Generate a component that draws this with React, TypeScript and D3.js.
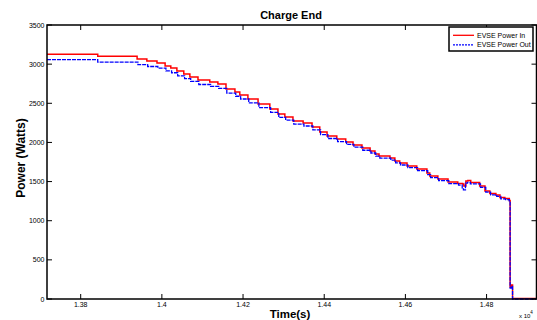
import React from "react";
import * as d3 from "d3";

const title = "Charge End";
const xLabel = "Time(s)";
const yLabel = "Power (Watts)";
const seriesNames = ["EVSE Power In", "EVSE Power Out"];
const xTicks = [13800, 14000, 14200, 14400, 14600, 14800];
const xTickLabels = ["1.38", "1.4", "1.42", "1.44", "1.46", "1.48"];
const yTicks = [0, 500, 1000, 1500, 2000, 2500, 3000, 3500];

const timeIn = [
  13717, 13842, 13939, 13963, 13988, 14008, 14022, 14037, 14054, 14069, 14089, 14118,
  14138, 14158, 14180, 14192, 14212, 14237, 14266, 14286, 14303, 14323, 14348, 14370,
  14389, 14407, 14431, 14453, 14471, 14493, 14513, 14525, 14535, 14562, 14574, 14586,
  14604, 14628, 14653, 14660, 14680, 14705, 14729, 14741, 14744, 14749, 14754, 14761,
  14783, 14796, 14808, 14823, 14833, 14845, 14856, 14858, 14861, 14864, 14924,
];
const powerIn = [
  3126, 3100, 3066, 3040, 3015, 2976, 2951, 2912, 2874, 2836, 2797, 2772,
  2746, 2683, 2644, 2606, 2555, 2491, 2427, 2363, 2325, 2274, 2248, 2197,
  2133, 2082, 2044, 2006, 1967, 1929, 1891, 1852, 1827, 1801, 1763, 1737,
  1699, 1661, 1610, 1571, 1533, 1495, 1475, 1469, 1443, 1507, 1514, 1488,
  1443, 1380, 1348, 1329, 1297, 1284, 1258, 153, 179, 6, 6,
];
const timeOut = [
  13717, 13842, 13941, 13965, 13990, 14010, 14024, 14039, 14056, 14071, 14091, 14120,
  14140, 14160, 14182, 14194, 14214, 14239, 14268, 14288, 14305, 14325, 14350, 14372,
  14391, 14409, 14433, 14455, 14473, 14495, 14515, 14527, 14537, 14564, 14576, 14588,
  14606, 14630, 14655, 14662, 14682, 14707, 14731, 14740, 14743, 14748, 14753, 14760,
  14785, 14798, 14810, 14825, 14835, 14847, 14856, 14858, 14861, 14864, 14924,
];
const powerOut = [
  3057, 3027, 2995, 2970, 2950, 2915, 2890, 2850, 2815, 2780, 2740, 2715,
  2690, 2630, 2590, 2555, 2505, 2445, 2385, 2320, 2285, 2235, 2210, 2160,
  2100, 2050, 2010, 1975, 1940, 1900, 1865, 1825, 1800, 1775, 1740, 1712,
  1678, 1640, 1590, 1550, 1512, 1475, 1455, 1420, 1395, 1480, 1490, 1470,
  1425, 1365, 1330, 1310, 1280, 1270, 1245, 140, 160, 0, 0,
];

const W = 537;
const H = 320;
const left = 47;
const right = 536.5;
const top = 25;
const bottom = 299;
const font = "'Liberation Sans', Arial, sans-serif";

export default function App() {
  const x = d3.scaleLinear().domain([13717, 14923]).range([left, right]);
  const y = d3.scaleLinear().domain([0, 3500]).range([bottom, top]);
  const line = d3
    .line<[number, number]>()
    .x((d) => x(d[0]))
    .y((d) => y(d[1]))
    .curve(d3.curveStepAfter);
  const inPts = timeIn.map((t, i) => [t, powerIn[i]] as [number, number]);
  const outPts = timeOut.map((t, i) => [t, powerOut[i]] as [number, number]);
  const tl = 5;

  return (
    <svg
      width={W}
      height={H}
      style={{ position: "absolute", left: 0, top: 0, background: "#fff" }}
      fontFamily={font}
    >
      <rect x={0} y={0} width={W} height={H} fill="#fff" />
      <defs>
        <clipPath id="plot">
          <rect x={left} y={top - 2} width={right - left} height={bottom - top + 4} />
        </clipPath>
      </defs>
      <g clipPath="url(#plot)">
        <path d={line(inPts) || ""} fill="none" stroke="#ff0000" strokeWidth={1.5} />
        <path
          d={line(outPts) || ""}
          fill="none"
          stroke="#0000ff"
          strokeWidth={1.3}
          strokeDasharray="4,1"
        />
      </g>
      {/* axes box */}
      <rect x={left} y={top} width={right - left} height={bottom - top} fill="none" stroke="#000" strokeWidth={1.5} />
      {xTicks.map((t, i) => (
        <g key={"xt" + i}>
          <line x1={x(t)} x2={x(t)} y1={bottom} y2={bottom - tl} stroke="#000" strokeWidth={1} />
          <line x1={x(t)} x2={x(t)} y1={top} y2={top + tl} stroke="#000" strokeWidth={1} />
          <text x={x(t)} y={307} fontSize={7} textAnchor="middle" fill="#000">
            {xTickLabels[i]}
          </text>
        </g>
      ))}
      {yTicks.map((v, i) => (
        <g key={"yt" + i}>
          <line x1={left} x2={left + tl} y1={y(v)} y2={y(v)} stroke="#000" strokeWidth={1} />
          <line x1={right} x2={right - tl} y1={y(v)} y2={y(v)} stroke="#000" strokeWidth={1} />
          <text x={44.5} y={y(v) + 2.5} fontSize={7} textAnchor="end" fill="#000">
            {v}
          </text>
        </g>
      ))}
      <text x={291} y={19} fontSize={11} fontWeight="bold" textAnchor="middle" fill="#000">
        {title}
      </text>
      <text x={290} y={318} fontSize={11.5} fontWeight="bold" textAnchor="middle" fill="#000">
        {xLabel}
      </text>
      <text
        transform={`translate(25,${(top + bottom) / 2 - 4}) rotate(-90)`}
        fontSize={12}
        fontWeight="bold"
        textAnchor="middle"
        fill="#000"
      >
        {yLabel}
      </text>
      <text x={519} y={318} fontSize={6} fill="#000">
        x 10
        <tspan dy={-4} fontSize={4.5}>4</tspan>
      </text>
      {/* legend */}
      <rect x={449} y={27} width={84} height={24} fill="#fff" stroke="#000" strokeWidth={1.5} />
      <line x1={453} x2={474} y1={35.3} y2={35.3} stroke="#ff0000" strokeWidth={1.3} />
      <line x1={453} x2={474} y1={44.8} y2={44.8} stroke="#0000ff" strokeWidth={1.2} strokeDasharray="2,1" />
      <text x={477} y={37.8} fontSize={7} fill="#000">
        {seriesNames[0]}
      </text>
      <text x={477} y={47.3} fontSize={7} fill="#000">
        {seriesNames[1]}
      </text>
    </svg>
  );
}
